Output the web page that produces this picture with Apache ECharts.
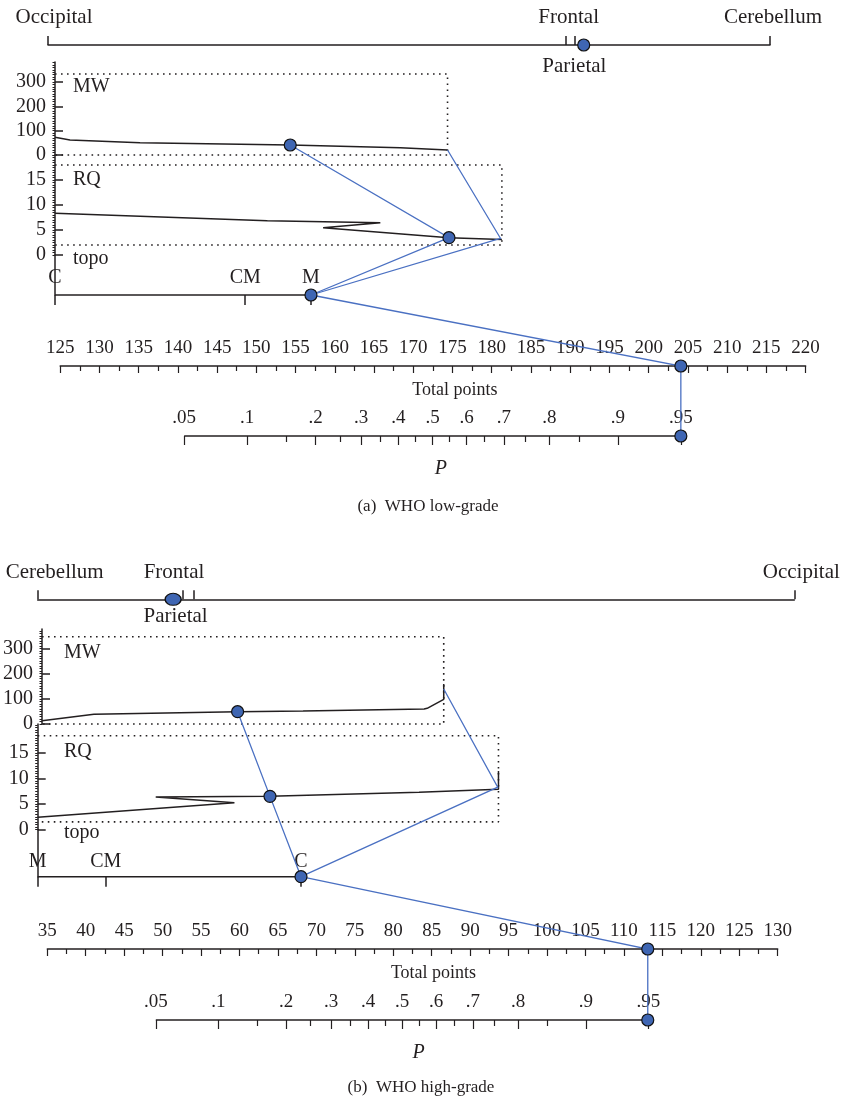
<!DOCTYPE html>
<html>
<head>
<meta charset="utf-8">
<script src="https://cdn.jsdelivr.net/npm/echarts@6/dist/echarts.min.js"></script>
<style>
  html, body { margin: 0; background: #fff; }
  #chart { width: 841px; height: 1103px; }
</style>
</head>
<body>
<div id="chart"></div>
<script>
// ---- shared scales ----
const mwTicks = [0, 100, 200, 300];
const rqTicks = [0, 5, 10, 15];
const pMajor = [0.05, 0.1, 0.2, 0.3, 0.4, 0.5, 0.6, 0.7, 0.8, 0.9, 0.95];
const pLabels = ['.05', '.1', '.2', '.3', '.4', '.5', '.6', '.7', '.8', '.9', '.95'];
const pMinor = [0.15, 0.25, 0.35, 0.45, 0.55, 0.65, 0.75, 0.85];

// ---- (a) WHO low-grade ----
const locNamesA = ['Occipital', 'Frontal', 'Parietal', 'Cerebellum'];
const locPointsA = [0, 71.7, 72.9, 100];
const locPatientA = 74.2;
const mwRangeA = [0, 382];
const mwCurveA = [[0, 72.7], [2.1, 61.6], [11.9, 50.5], [32.9, 41.1], [48.3, 29.6], [54.9, 20.5]];
const mwPatientA = [32.9, 41.1];
const mwEndA = [54.9, 20.5];
const mwBoxA = [54.9, 333];
const rqRangeA = [0, 20];
const rqCurveA = [[0, 8.34], [29.7, 6.86], [45.5, 6.46], [37.5, 5.46], [55.1, 3.46], [62.5, 3.1]];
const rqPatientA = [55.1, 3.46];
const rqPivotA = [62.3, 3.35];
const rqBoxA = [62.5, 2, 18];
const topoNamesA = ['C', 'CM', 'M'];
const topoPointsA = [0, 26.6, 35.8];
const topoPatientA = 35.8;
const totalRangeA = [125, 220];
const totalPatientA = 204.1;
const pScaleA = [172.45, 10.75]; // total points at P = .5, points per logit unit

// ---- (b) WHO high-grade ----
const locNamesB = ['Cerebellum', 'Frontal', 'Parietal', 'Occipital'];
const locPointsB = [0, 19.2, 20.6, 100];
const locPatientB = 17.9;
const mwRangeB = [0, 377];
const mwCurveB = [[0, 13], [6.9, 38.5], [26.0, 48.8], [34.7, 51.6], [50.8, 59.5], [51.2, 62.3], [53.4, 98], [53.4, 158.7]];
const mwPatientB = [26.0, 48.8];
const mwEndB = [53.4, 139];
const mwBoxB = [53.4, 346];
const rqRangeB = [0, 20.7];
const rqCurveB = [[0, 2.4], [26.0, 5.25], [15.6, 6.4], [30.7, 6.5], [50.4, 7.3], [60.9, 7.9], [60.9, 11.5]];
const rqPatientB = [30.7, 6.5];
const rqPivotB = [60.8, 8.3];
const rqBoxB = [60.9, 1.5, 18.4];
const topoNamesB = ['M', 'CM', 'C'];
const topoPointsB = [0, 9.0, 34.8];
const topoPatientB = 34.8;
const totalRangeB = [35, 130];
const totalPatientB = 113.1;
const pScaleB = [81.15, 10.88];

// ---- styles ----
const FONT = 'Liberation Serif';
const INK = '#231f20';
const BLUE = '#4a70c2';
const DOT = '#3f66b3';
const axisLine = { color: INK, width: 1.5 };

const grid = [], xAxis = [], yAxis = [], series = [], graphic = [];
const add = (arr, item) => { arr.push(item); return arr.length - 1; };
const steps = (a, b, s) => { const r = []; for (let v = a; v <= b + 1e-9; v += s) r.push(+v.toFixed(4)); return r; };

function hiddenAxis(arr, g, min, max) {
  return add(arr, { type: 'value', gridIndex: g, min: min, max: max, show: false });
}
function dots(xi, yi, pts, size) {
  series.push({
    type: 'scatter', xAxisIndex: xi, yAxisIndex: yi, z: 10, clip: false, silent: true,
    symbolSize: size || 12,
    itemStyle: { color: DOT, borderColor: '#111', borderWidth: 1.2, opacity: 1 },
    data: pts
  });
}
function curve(xi, yi, pts, style) {
  series.push({
    type: 'line', xAxisIndex: xi, yAxisIndex: yi, showSymbol: false, clip: false, silent: true,
    lineStyle: Object.assign({ color: INK, width: 1.5 }, style || {}),
    data: pts
  });
}
function labels(xi, yi, items, fontSize) {
  series.push({
    type: 'scatter', xAxisIndex: xi, yAxisIndex: yi, symbolSize: 0, clip: false, silent: true,
    itemStyle: { opacity: 1 },
    label: { show: true, formatter: '{b}', color: INK, opacity: 1, fontFamily: FONT, fontSize: fontSize },
    data: items
  });
}
function valueYAxis(g, range, ticks, minorStep) {
  add(yAxis, {
    type: 'value', gridIndex: g, min: range[0], max: range[1], position: 'left',
    axisLine: { show: true, lineStyle: axisLine },
    axisTick: { inside: true, length: 8, customValues: ticks, lineStyle: axisLine },
    axisLabel: { customValues: ticks, margin: 9, color: INK, fontFamily: FONT, fontSize: 20 },
    splitLine: { show: false }
  });
  add(yAxis, {
    type: 'value', gridIndex: g, min: range[0], max: range[1], position: 'left',
    axisLine: { show: false },
    axisTick: { length: 2.5, customValues: steps(range[0], range[1], minorStep), lineStyle: { color: INK, width: 1 } },
    axisLabel: { show: false }, splitLine: { show: false }
  });
  return yAxis.length - 2;
}

function buildPanel(P, L) {
  const refs = {};
  // location row
  let g = add(grid, { left: L.locLeft, right: L.locRight, top: L.locY - 20, height: 20 });
  let xi = add(xAxis, {
    type: 'value', gridIndex: g, min: 0, max: 100, position: 'bottom',
    axisLine: { lineStyle: axisLine },
    axisTick: { inside: true, length: 9, customValues: P.locPoints, lineStyle: axisLine },
    axisLabel: { show: false }, splitLine: { show: false }
  });
  let yi = hiddenAxis(yAxis, g, 0, 1);
  labels(xi, yi, P.locNames.map((n, i) => ({
    name: n, value: [P.locPoints[i], 0],
    label: P.locBelow.indexOf(n) >= 0
      ? { position: 'bottom', distance: L.locBelowGap, offset: [L.locShift[i], 0] }
      : { position: 'top', distance: L.locAboveGap, offset: [L.locShift[i], 0] }
  })), 21);
  dots(xi, yi, [[P.locPatient, 0]], P.locDotSize);

  // MW block
  g = add(grid, { left: L.upLeft, right: L.upRight, top: L.mwTop, height: L.mwBottom - L.mwTop });
  xi = hiddenAxis(xAxis, g, 0, 100);
  yi = valueYAxis(g, P.mwRange, mwTicks, 10);
  curve(xi, yi, [[0, P.mwBox[1]], [P.mwBox[0], P.mwBox[1]], [P.mwBox[0], 0], [0, 0]], { type: [1.6, 4.4], width: 1.6 });
  curve(xi, yi, P.mwCurve);
  dots(xi, yi, [P.mwPatient]);
  refs.mw = { xAxisIndex: xi, yAxisIndex: yi };

  // RQ block
  g = add(grid, { left: L.upLeft, right: L.upRight, top: L.mwBottom, height: L.rqBottom - L.mwBottom });
  xi = hiddenAxis(xAxis, g, 0, 100);
  yi = valueYAxis(g, P.rqRange, rqTicks, 0.5);
  curve(xi, yi, [[0, P.rqBox[2]], [P.rqBox[0], P.rqBox[2]], [P.rqBox[0], P.rqBox[1]], [0, P.rqBox[1]]], { type: [1.6, 4.4], width: 1.6 });
  curve(xi, yi, P.rqCurve);
  dots(xi, yi, [P.rqPatient]);
  refs.rq = { xAxisIndex: xi, yAxisIndex: yi };

  // topo row
  g = add(grid, { left: L.upLeft, right: L.upRight, top: L.rqBottom, height: L.topoY - L.rqBottom });
  xi = add(xAxis, {
    type: 'value', gridIndex: g, min: 0, max: 100, position: 'bottom',
    axisLine: { show: false },
    axisTick: { length: 10, customValues: P.topoPoints, lineStyle: axisLine },
    axisLabel: { show: false }, splitLine: { show: false }
  });
  yi = add(yAxis, {
    type: 'value', gridIndex: g, min: 0, max: 1, position: 'left',
    axisLine: { show: true, lineStyle: axisLine },
    axisTick: { show: false }, axisLabel: { show: false }, splitLine: { show: false }
  });
  const tMin = Math.min.apply(null, P.topoPoints), tMax = Math.max.apply(null, P.topoPoints);
  curve(xi, yi, [[tMin, 0], [tMax, 0]]);
  labels(xi, yi, P.topoNames.map((n, i) => ({
    name: n, value: [P.topoPoints[i], 0], label: { position: 'top', distance: L.topoGap }
  })), 20);
  dots(xi, yi, [[P.topoPatient, 0]]);
  refs.topo = { xAxisIndex: xi, yAxisIndex: yi };

  // total points
  g = add(grid, { left: L.totLeft, right: L.totRight, top: L.totY - 40, height: 40 });
  xi = add(xAxis, {
    type: 'value', gridIndex: g, min: P.totalRange[0], max: P.totalRange[1], interval: 5, position: 'bottom',
    axisLine: { lineStyle: axisLine },
    axisTick: { length: 7, lineStyle: { color: INK, width: 1.2 } },
    minorTick: { show: true, splitNumber: 2, length: 5, lineStyle: { color: INK, width: 1.2 } },
    axisLabel: { inside: true, margin: 8, color: INK, fontFamily: FONT, fontSize: 19 },
    splitLine: { show: false },
    name: 'Total points', nameLocation: 'middle', nameGap: 15,
    nameTextStyle: { color: INK, fontFamily: FONT, fontSize: 18, verticalAlign: 'top', padding: [0, 0, 0, L.nameShift * 2] }
  });
  yi = hiddenAxis(yAxis, g, 0, 1);
  dots(xi, yi, [[P.totalPatient, 0]]);
  refs.total = { xAxisIndex: xi, yAxisIndex: yi };

  // P scale (logistic on the total points axis)
  const pos = p => +(P.pScale[0] + P.pScale[1] * Math.log(p / (1 - p))).toFixed(4);
  const majorPos = P.pMajor.map(pos);
  g = add(grid, { left: L.totLeft, right: L.totRight, top: L.pY - 40, height: 40 });
  xi = add(xAxis, {
    type: 'value', gridIndex: g, min: P.totalRange[0], max: P.totalRange[1], position: 'bottom',
    axisLine: { show: false },
    axisTick: { length: 9, customValues: majorPos, lineStyle: { color: INK, width: 1.2 } },
    axisLabel: {
      customValues: majorPos, inside: true, margin: 8, color: INK, fontFamily: FONT, fontSize: 19,
      formatter: v => { const i = majorPos.findIndex(m => Math.abs(m - v) < 1e-3); return i >= 0 ? P.pLabels[i] : ''; }
    },
    splitLine: { show: false },
    name: 'P', nameLocation: 'middle', nameGap: 23,
    nameTextStyle: { color: INK, fontFamily: FONT, fontSize: 20, fontStyle: 'italic', verticalAlign: 'top', padding: [0, 0, 0, L.pShift * 2] }
  });
  add(xAxis, {
    type: 'value', gridIndex: g, min: P.totalRange[0], max: P.totalRange[1], position: 'bottom', offset: 0,
    axisLine: { show: false },
    axisTick: { length: 6, customValues: P.pMinor.map(pos), lineStyle: { color: INK, width: 1.2 } },
    axisLabel: { show: false }, splitLine: { show: false }
  });
  yi = hiddenAxis(yAxis, g, 0, 1);
  curve(xi, yi, [[majorPos[0], 0], [majorPos[majorPos.length - 1], 0]]);
  dots(xi, yi, [[P.totalPatient, 0]]);
  refs.p = { xAxisIndex: xi, yAxisIndex: yi };

  // block names and caption
  [['MW', L.mwLabelY], ['RQ', L.rqLabelY], ['topo', L.topoLabelY]].forEach(([t, y]) => {
    graphic.push({ type: 'text', x: L.groupLabelX, y: y, silent: true,
      style: { text: t, font: '20px "Liberation Serif"', fill: INK, textAlign: 'left', textVerticalAlign: 'middle', align: 'left', verticalAlign: 'middle' } });
  });
  graphic.push({ type: 'text', x: L.captionX, y: L.captionY, silent: true,
    style: { text: P.caption, font: '17px "Liberation Serif"', fill: INK, textAlign: 'center', textVerticalAlign: 'middle', align: 'center', verticalAlign: 'middle' } });

  return { refs: refs, paths: P.paths };
}

const panelA = buildPanel({
  caption: '(a)  WHO low-grade',
  locNames: locNamesA, locPoints: locPointsA, locBelow: ['Parietal'], locPatient: locPatientA, locDotSize: 12,
  mwRange: mwRangeA, mwCurve: mwCurveA, mwPatient: mwPatientA, mwBox: mwBoxA,
  rqRange: rqRangeA, rqCurve: rqCurveA, rqPatient: rqPatientA, rqBox: rqBoxA,
  topoNames: topoNamesA, topoPoints: topoPointsA, topoPatient: topoPatientA,
  totalRange: totalRangeA, totalPatient: totalPatientA,
  pScale: pScaleA, pMajor: pMajor, pLabels: pLabels, pMinor: pMinor,
  paths: [
    [['mw', mwPatientA], ['rq', rqPatientA], ['topo', [topoPatientA, 0]]],
    [['mw', mwEndA], ['rq', rqPivotA], ['topo', [topoPatientA, 0]]],
    [['topo', [topoPatientA, 0]], ['total', [totalPatientA, 0]], ['p', [totalPatientA, 0]]]
  ]
}, {
  locLeft: 48, locRight: 71, locY: 45, locAboveGap: 17, locBelowGap: 11, locShift: [6, 3, 0, 3],
  upLeft: 55, upRight: 71, mwTop: 62, mwBottom: 155, rqBottom: 255, topoY: 295, topoGap: 7,
  totLeft: 60.2, totRight: 35.4, totY: 366, pY: 436, nameShift: 22, pShift: 8,
  groupLabelX: 73, mwLabelY: 87, rqLabelY: 180, topoLabelY: 259,
  captionX: 428, captionY: 507
});

const panelB = buildPanel({
  caption: '(b)  WHO high-grade',
  locNames: locNamesB, locPoints: locPointsB, locBelow: ['Parietal'], locPatient: locPatientB, locDotSize: [16, 12],
  mwRange: mwRangeB, mwCurve: mwCurveB, mwPatient: mwPatientB, mwBox: mwBoxB,
  rqRange: rqRangeB, rqCurve: rqCurveB, rqPatient: rqPatientB, rqBox: rqBoxB,
  topoNames: topoNamesB, topoPoints: topoPointsB, topoPatient: topoPatientB,
  totalRange: totalRangeB, totalPatient: totalPatientB,
  pScale: pScaleB, pMajor: pMajor, pLabels: pLabels, pMinor: pMinor,
  paths: [
    [['mw', mwPatientB], ['rq', rqPatientB], ['topo', [topoPatientB, 0]]],
    [['mw', mwEndB], ['rq', rqPivotB], ['topo', [topoPatientB, 0]]],
    [['topo', [topoPatientB, 0]], ['total', [totalPatientB, 0]], ['p', [totalPatientB, 0]]]
  ]
}, {
  locLeft: 37.7, locRight: 46.7, locY: 599.3, locAboveGap: 16, locBelowGap: 7, locShift: [17, -9, -18, 7],
  upLeft: 37.7, upRight: 46.7, mwTop: 629, mwBottom: 724, rqBottom: 829.5, topoY: 876.7, topoGap: 5,
  totLeft: 47.3, totRight: 63.3, totY: 949, pY: 1020, nameShift: 21, pShift: 6,
  groupLabelX: 64, mwLabelY: 653, rqLabelY: 752, topoLabelY: 833,
  captionX: 421, captionY: 1088
});

const chart = echarts.init(document.getElementById('chart'));
chart.setOption({ animation: false, grid: grid, xAxis: xAxis, yAxis: yAxis, series: series });

// blue guide lines: data points converted through each block's own axes
[panelA, panelB].forEach(panel => {
  panel.paths.forEach(path => {
    const pts = path.map(([block, v]) => chart.convertToPixel(panel.refs[block], v));
    graphic.push({ type: 'polyline', z: 5, silent: true, shape: { points: pts },
      style: { stroke: BLUE, lineWidth: 1.3, fill: null } });
  });
});
chart.setOption({ graphic: graphic });
</script>
</body>
</html>
